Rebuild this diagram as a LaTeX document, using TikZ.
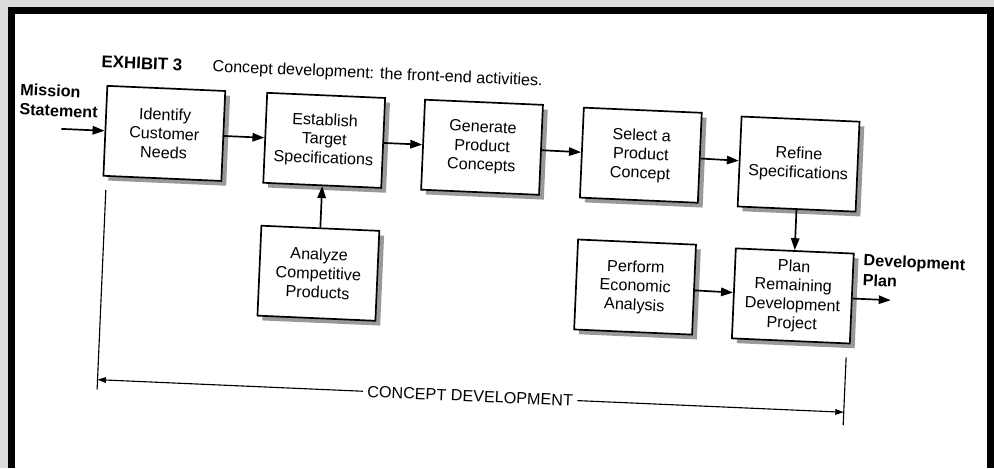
\documentclass[tikz,border=0pt]{standalone}
\usepackage{fontspec}
\setmainfont{Liberation Sans}
\usetikzlibrary{arrows.meta,shadows}

\begin{document}
\begin{tikzpicture}[x=0.025cm,y=-0.025cm]
			\useasboundingbox (0,0) rectangle (994,468);
			\fill[black!14] (0,0) rectangle (994,468);
			\fill[black] (8,7) rectangle (994,468);
			\fill[white] (15,14) rectangle (987,468);
			\begin{scope}[rotate around={-2.5:(497,240)},transform shape,
				font=\fontsize{11.5pt}{13.5pt}\selectfont]
			\begin{scope}[every node/.style={rectangle,draw,line width=1.2pt,fill=white,
					align=center,minimum width=2.95cm,minimum height=2.25cm,inner sep=2pt,
					drop shadow={shadow xshift=1.2mm,shadow yshift=-1.2mm,fill=black!40,opacity=1}}]
				\node (A) at (160,148) {Identify\\Customer\\Needs};
				\node (B) at (320,148) {Establish\\Target\\Specifications};
				\node (C) at (478,148) {Generate\\Product\\Concepts};
				\node (D) at (637,149) {Select a\\Product\\Concept};
				\node (E) at (795,151) {Refine\\Specifications};
				\node (F) at (320,281) {Analyze\\Competitive\\Products};
				\node (G) at (637,281) {Perform\\Economic\\Analysis};
				\node (H) at (795,283) {Plan\\Remaining\\Development\\Project};
			\end{scope}
			\begin{scope}[every node/.style={align=left,inner sep=0pt,
					font=\fontsize{11.5pt}{14pt}\selectfont\bfseries}]
				\node[anchor=west] (M) at (14,120) {Mission\\Statement};
				\node[anchor=west] (P) at (864,254) {Development\\Plan};
				\node[anchor=west] (X) at (94,79) {\fontsize{12pt}{14pt}\selectfont EXHIBIT 3};
			\end{scope}
			\node[anchor=west,inner sep=0pt] (T) at (205,80) {Concept development: the front-end activities.};
			\node[inner sep=3pt] (K) at (477,397) {CONCEPT DEVELOPMENT};
			\coordinate (m) at (57,148);
			\coordinate (p) at (893,283);
			\coordinate (L) at (104,397);
			\coordinate (R) at (851,397);
			\coordinate (L1) at (104,207);
			\coordinate (L2) at (104,407);
			\coordinate (R1) at (851,342);
			\coordinate (R2) at (851,410);
			\begin{scope}[>={Triangle[length=8.5pt,width=6pt]},
				every edge/.style={draw=black,line width=1.2pt}]
				\path [->] (m) edge (A);
				\path [->] (A) edge (B);
				\path [->] (B) edge (C);
				\path [->] (C) edge (D);
				\path [->] (D) edge (E);
				\path [->] (E) edge (H);
				\path [->] (F) edge (B);
				\path [->] (G) edge (H);
				\path [->] (H) edge (p);
			\end{scope}
			\begin{scope}[>={Triangle[length=6pt,width=4pt]},
				every edge/.style={draw=black,line width=0.8pt}]
				\path [->] (K) edge (L);
				\path [->] (K) edge (R);
				\path (L1) edge (L2);
				\path (R1) edge (R2);
			\end{scope}
			\end{scope}
		\end{tikzpicture}
\end{document}
